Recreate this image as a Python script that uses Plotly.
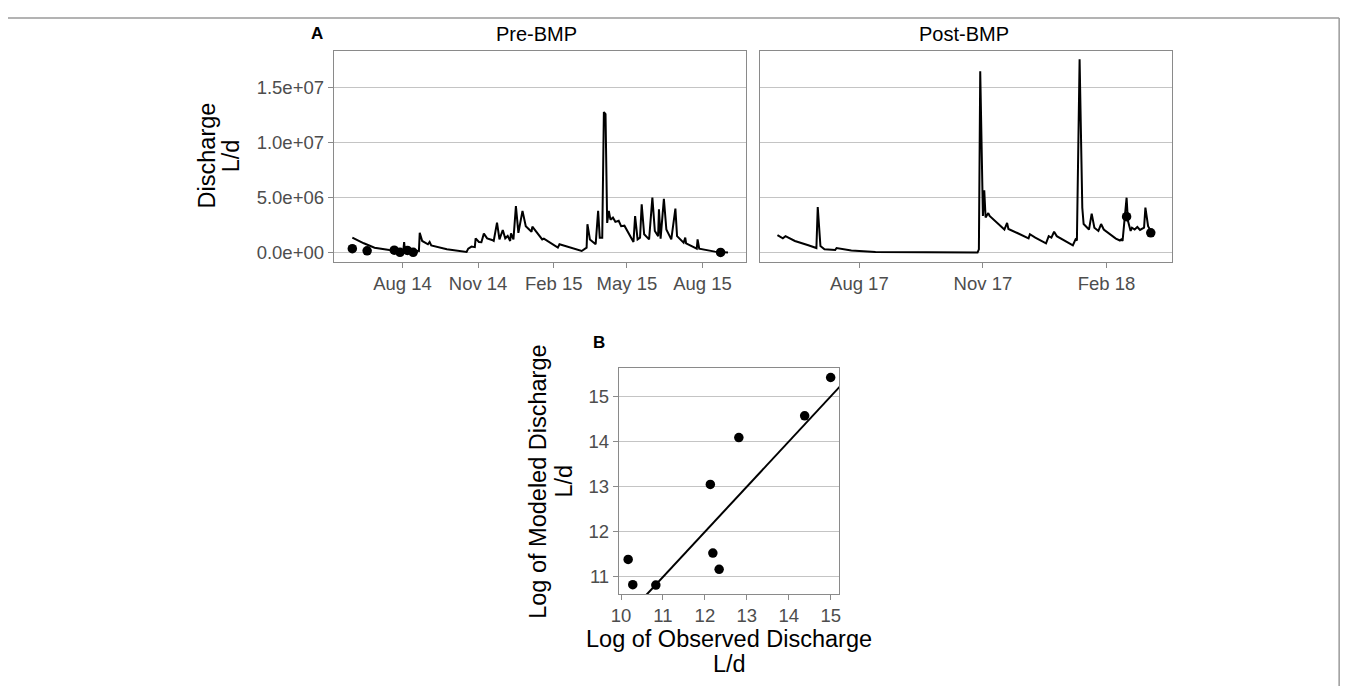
import plotly.graph_objects as go

# ---------------- DATA ----------------
# Panel A, Pre-BMP modeled discharge (L/d), key vertices
pre_dates = [
    "2014-06-01", "2014-06-08", "2014-06-15", "2014-06-28", "2014-07-16", "2014-07-29",
    "2014-08-02", "2014-08-03", "2014-08-04", "2014-08-08", "2014-08-13", "2014-08-21",
    "2014-08-22", "2014-08-25", "2014-09-01", "2014-09-03", "2014-09-05", "2014-09-24",
    "2014-10-18", "2014-10-20", "2014-10-24", "2014-10-28", "2014-10-29", "2014-11-02",
    "2014-11-05", "2014-11-08", "2014-11-12", "2014-11-18", "2014-11-20", "2014-11-24",
    "2014-11-27", "2014-12-01", "2014-12-04", "2014-12-07", "2014-12-10", "2014-12-11",
    "2014-12-14", "2014-12-17", "2014-12-20", "2014-12-25", "2014-12-29", "2015-01-05",
    "2015-01-06", "2015-01-18", "2015-01-20", "2015-02-06", "2015-02-08", "2015-03-07",
    "2015-03-13", "2015-03-14", "2015-03-17", "2015-03-24", "2015-03-27", "2015-03-29",
    "2015-04-01", "2015-04-03", "2015-04-05", "2015-04-07", "2015-04-09", "2015-04-11",
    "2015-04-14", "2015-04-17", "2015-04-21", "2015-04-24", "2015-04-28", "2015-05-09",
    "2015-05-11", "2015-05-14", "2015-05-17", "2015-05-19", "2015-05-22", "2015-05-28",
    "2015-06-01", "2015-06-04", "2015-06-08", "2015-06-09", "2015-06-11", "2015-06-15",
    "2015-06-18", "2015-06-24", "2015-06-29", "2015-07-01", "2015-07-09", "2015-07-11",
    "2015-07-12", "2015-07-25", "2015-07-26", "2015-07-28", "2015-08-16", "2015-09-01",
]
pre_flow = [
    1.36e6, 1.08e6, 0.85e6, 0.45e6, 0.24e6, 0.18e6,
    0.15e6, 0.95e6, 0.25e6, 0.45e6, 0.20e6, 0.15e6,
    1.80e6, 1.06e6, 0.76e6, 0.97e6, 0.65e6, 0.30e6,
    0.06e6, 0.36e6, 0.55e6, 0.50e6, 1.30e6, 0.97e6,
    0.95e6, 1.73e6, 1.30e6, 1.15e6, 1.06e6, 2.73e6,
    1.20e6, 2.06e6, 1.30e6, 1.52e6, 1.06e6, 1.76e6,
    1.20e6, 4.24e6, 1.80e6, 3.80e6, 2.40e6, 1.90e6,
    2.36e6, 1.20e6, 1.27e6, 0.45e6, 0.76e6, 0.15e6,
    0.45e6, 2.58e6, 1.20e6, 0.76e6, 3.80e6, 1.36e6,
    1.36e6, 12.8e6, 12.6e6, 2.70e6, 3.80e6, 3.00e6,
    3.20e6, 2.80e6, 2.90e6, 2.40e6, 2.45e6, 0.97e6,
    3.33e6, 1.20e6, 1.36e6, 4.40e6, 1.67e6, 1.20e6,
    5.00e6, 1.97e6, 1.50e6, 3.94e6, 1.27e6, 4.90e6,
    2.10e6, 1.20e6, 4.00e6, 1.50e6, 0.90e6, 1.36e6,
    0.85e6, 0.36e6, 1.20e6, 0.36e6, 0.09e6, 0.00e6,
]
pre_obs_dates = ["2014-06-01", "2014-06-19", "2014-07-22", "2014-07-29",
                 "2014-08-07", "2014-08-14", "2015-08-23"]
pre_obs_flow = [0.36e6, 0.16e6, 0.22e6, 0.03e6, 0.20e6, 0.03e6, 0.02e6]

# Panel A, Post-BMP modeled discharge (L/d)
post_dates = [
    "2017-06-01", "2017-06-03", "2017-06-05", "2017-06-07", "2017-06-14", "2017-06-24",
    "2017-06-30", "2017-07-01", "2017-07-03", "2017-07-06", "2017-07-14", "2017-07-15",
    "2017-07-26", "2017-08-13", "2017-09-19", "2017-10-28", "2017-10-29", "2017-10-30",
    "2017-11-01", "2017-11-02", "2017-11-03", "2017-11-05", "2017-11-06", "2017-11-10",
    "2017-11-17", "2017-11-19", "2017-11-20", "2017-11-27", "2017-12-01", "2017-12-05",
    "2017-12-06", "2017-12-10", "2017-12-18", "2017-12-20", "2017-12-22", "2017-12-24",
    "2017-12-26", "2018-01-07", "2018-01-09", "2018-01-10", "2018-01-12", "2018-01-14",
    "2018-01-15", "2018-01-19", "2018-01-21", "2018-01-23", "2018-01-26", "2018-01-28",
    "2018-01-30", "2018-02-08", "2018-02-11", "2018-02-12", "2018-02-13", "2018-02-15",
    "2018-02-16", "2018-02-17", "2018-02-19", "2018-02-20", "2018-02-22", "2018-02-24",
    "2018-02-26", "2018-03-01", "2018-03-02", "2018-03-04", "2018-03-06", "2018-03-08",
]
post_flow = [
    1.60e6, 1.45e6, 1.30e6, 1.50e6, 1.06e6, 0.67e6,
    0.42e6, 4.15e6, 0.60e6, 0.30e6, 0.24e6, 0.42e6,
    0.20e6, 0.06e6, 0.01e6, 0.00e6, 0.30e6, 16.5e6,
    3.33e6, 5.67e6, 3.20e6, 3.60e6, 3.33e6, 2.88e6,
    2.10e6, 2.70e6, 2.15e6, 1.76e6, 1.50e6, 1.30e6,
    1.67e6, 1.36e6, 0.85e6, 1.50e6, 1.36e6, 1.90e6,
    1.50e6, 0.67e6, 1.20e6, 1.10e6, 17.6e6, 4.10e6,
    2.60e6, 2.10e6, 3.55e6, 2.27e6, 1.97e6, 2.60e6,
    2.10e6, 1.27e6, 1.10e6, 1.20e6, 1.06e6, 3.33e6,
    5.00e6, 2.90e6, 1.97e6, 2.27e6, 2.10e6, 2.33e6,
    2.06e6, 2.27e6, 4.10e6, 2.40e6, 1.97e6, 1.90e6,
]
post_obs_dates = ["2018-02-16", "2018-03-06"]
post_obs_flow = [3.27e6, 1.80e6]

# Panel B, log observed vs log modeled discharge
log_observed = [10.17, 10.28, 10.83, 12.13, 12.19, 12.34, 12.81, 14.38, 15.00]
log_modeled = [11.39, 10.83, 10.82, 13.05, 11.53, 11.17, 14.09, 14.57, 15.42]
one_to_one = [9.0, 16.0]

# Tick labels
y_ticks_a = [0, 5e6, 1e7, 1.5e7]
y_labels_a = ["0.0e+00", "5.0e+06", "1.0e+07", "1.5e+07"]
pre_ticks = ["2014-08-01", "2014-11-01", "2015-02-01", "2015-05-01", "2015-08-01"]
pre_tick_labels = ["Aug 14", "Nov 14", "Feb 15", "May 15", "Aug 15"]
post_ticks = ["2017-08-01", "2017-11-01", "2018-02-01"]
post_tick_labels = ["Aug 17", "Nov 17", "Feb 18"]
b_x_ticks = [10, 11, 12, 13, 14, 15]
b_y_ticks = [11, 12, 13, 14, 15]

# ---------------- FIGURE ----------------
W, H = 1362, 687
FONT = "Liberation Sans, Arial, Helvetica, sans-serif"
BORDER = "#8a8a8a"
GRID = "#c4c4c4"
TICKTXT = "#4d4d4d"
TICKSIZE = 18.5
TITLESIZE = 23.5


def px(x):
    return x / W


def py(y):
    return 1 - y / H


fig = go.Figure()
line_style = dict(color="black", width=2)
dot_style = dict(color="black", size=9.5)

fig.add_trace(go.Scatter(x=pre_dates, y=pre_flow, mode="lines", line=line_style,
                         xaxis="x", yaxis="y", showlegend=False))
fig.add_trace(go.Scatter(x=pre_obs_dates, y=pre_obs_flow, mode="markers", marker=dot_style,
                         xaxis="x", yaxis="y", showlegend=False))
fig.add_trace(go.Scatter(x=post_dates, y=post_flow, mode="lines", line=line_style,
                         xaxis="x2", yaxis="y2", showlegend=False))
fig.add_trace(go.Scatter(x=post_obs_dates, y=post_obs_flow, mode="markers", marker=dot_style,
                         xaxis="x2", yaxis="y2", showlegend=False))
fig.add_trace(go.Scatter(x=one_to_one, y=one_to_one, mode="lines", line=line_style,
                         xaxis="x3", yaxis="y3", showlegend=False))
fig.add_trace(go.Scatter(x=log_observed, y=log_modeled, mode="markers",
                         marker=dot_style,
                         xaxis="x3", yaxis="y3", showlegend=False, cliponaxis=False))

axis_common = dict(showline=True, mirror=True, linecolor=BORDER, linewidth=1.2,
                   ticks="outside", ticklen=5, tickcolor=BORDER, tickwidth=1.2,
                   tickfont=dict(family=FONT, size=TICKSIZE, color=TICKTXT), zeroline=False)

top_dom = [py(262), py(51)]
fig.update_layout(
    width=W, height=H, autosize=False,
    margin=dict(l=0, r=0, t=0, b=0),
    paper_bgcolor="white", plot_bgcolor="white",
    font=dict(family=FONT, color="black"),
    xaxis=dict(domain=[px(328), px(743)], anchor="y", type="date",
               range=["2014-05-09 12:00", "2015-09-23"],
               tickvals=pre_ticks, ticktext=pre_tick_labels, showgrid=False, **axis_common),
    yaxis=dict(domain=top_dom, anchor="x", range=[-0.82e6, 18.36e6],
               tickvals=y_ticks_a, ticktext=y_labels_a, showgrid=True,
               gridcolor=GRID, gridwidth=1.2, **axis_common),
    xaxis2=dict(domain=[px(757), px(1172)], anchor="y2", type="date",
                range=["2017-05-19", "2018-03-22"],
                tickvals=post_ticks, ticktext=post_tick_labels, showgrid=False, **axis_common),
    yaxis2=dict(domain=top_dom, anchor="x2", range=[-0.82e6, 18.36e6],
                tickvals=y_ticks_a, showticklabels=False, showgrid=True,
                gridcolor=GRID, gridwidth=1.2, showline=True, mirror=True,
                linecolor=BORDER, linewidth=1.2, ticks="", zeroline=False),
    xaxis3=dict(domain=[px(615), px(837)], anchor="y3", range=[9.95, 15.21],
                tickvals=b_x_ticks, showgrid=False, **axis_common),
    yaxis3=dict(domain=[py(595), py(369)], anchor="x3", range=[10.62, 15.62],
                tickvals=b_y_ticks, showgrid=True, gridcolor=GRID, gridwidth=1.2,
                **axis_common),
)

ann = []


def text(x, y, s, size, bold=False, angle=0):
    ann.append(dict(x=px(x), y=py(y), xref="paper", yref="paper", text=s,
                    showarrow=False, xanchor="center", yanchor="middle",
                    textangle=angle,
                    font=dict(family=FONT, size=size, color="black",
                              weight="bold" if bold else "normal")))


text(311, 34, "A", 17, bold=True)
text(532, 34, "Pre-BMP", 20)
text(962, 34, "Post-BMP", 20)
text(200, 156, "Discharge", TITLESIZE, angle=-90)
text(224, 156, "L/d", TITLESIZE, angle=-90)
text(595, 343, "B", 17, bold=True)
text(534, 482, "Log of Modeled Discharge", TITLESIZE, angle=-90)
text(560, 482, "L/d", TITLESIZE, angle=-90)
text(726, 640, "Log of Observed Discharge", TITLESIZE)
text(726, 665, "L/d", TITLESIZE)
fig.update_layout(annotations=ann)

fig.update_layout(shapes=[
    dict(type="line", xref="paper", yref="paper", x0=0, x1=px(1340), y0=py(18), y1=py(18),
         line=dict(color="#9a9a9a", width=1.5)),
    dict(type="line", xref="paper", yref="paper", x0=px(1340), x1=px(1340), y0=py(18), y1=0,
         line=dict(color="#9a9a9a", width=1.5)),
])

fig.write_html("out.html",
               config={"displayModeBar": False},
               post_script="document.body.style.margin='0';document.body.style.overflow='hidden';")
